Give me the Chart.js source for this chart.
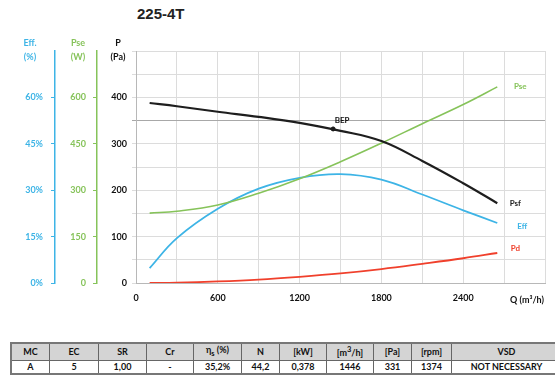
<!DOCTYPE html>
<html>
<head>
<meta charset="utf-8">
<script src="https://cdn.jsdelivr.net/npm/chart.js@4.4.0/dist/chart.umd.min.js"></script>
<style>
    html, body { margin: 0; padding: 0; background: #fff; }
    body { width: 555px; height: 378px; position: relative; overflow: hidden; font-family: Lato, "Noto Sans", sans-serif; }
    #title { position: absolute; left: 137px; top: 5px; font: bold 15px "Liberation Sans", Arial, sans-serif; color: #222; }
    #chart-wrap { position: absolute; left: 0; top: 0; width: 555px; height: 310px; }
    #specs { position: absolute; left: 10px; top: 342px; width: 539px; border-collapse: collapse; table-layout: fixed;
             font: bold 9px Lato, "Noto Sans", sans-serif; color: #111; border: 2px solid #777; }
    #specs td { border: 1px solid #666; text-align: center; height: 12px; padding: 0; line-height: 12px; }
    #specs tr.head td { background: #d4d4d4; }
</style>
</head>
<body>
<div id="title">225-4T</div>
<div id="chart-wrap"><canvas id="curves" width="555" height="310"></canvas></div>
<table id="specs"><tbody></tbody></table>

<script>
// Fan curves 225-4T — Chart.js

// ── Data ──────────────────────────────────────────────────────────────
const flowQ   = [100, 300, 600, 900, 1200, 1500, 1800, 2100, 2400, 2650];   // m³/h
const psfPa   = [388, 381, 369, 358, 345, 328, 306, 263, 215, 172];         // static pressure (Pa)
const pseW    = [226, 232, 252, 290, 337, 392, 452, 515, 577, 634];         // shaft power (W)
const effPct  = [4.8, 14.5, 24.0, 30.5, 34.0, 35.2, 33.4, 28.6, 23.5, 19.4]; // efficiency (%)
const pdW     = [0, 1, 5, 11, 20, 31, 45, 62, 80, 97];                      // dynamic (W scale)
const bepQ = 1446, bepPa = 332;

const xTicks   = [0, 600, 1200, 1800, 2400];
const paTicks  = [0, 100, 200, 300, 400];
const wTicks   = [0, 150, 300, 450, 600];
const effTicks = [0, 15, 30, 45, 60];

const tableHeaders = ['MC', 'EC', 'SR', 'Cr', 'η<sub>s</sub> (%)', 'N', '[kW]', '[m<sup>3</sup>/h]', '[Pa]', '[rpm]', 'VSD'];
const tableValues  = ['A', '5', '1,00', '-', '35,2%', '44,2', '0,378', '1446', '331', '1374', 'NOT NECESSARY'];
const colWidths    = [37, 48, 47, 46, 47, 37, 46, 46, 37, 39, 109];

const COLORS = {
    psf: '#1e1e1e',
    pse: '#86c35a',
    eff: '#3db4e6',
    pd: '#f0402c',
    grid: '#dcdcdc',
    axis: '#b8b8b8',
};

const pts = (ys) => flowQ.map((q, i) => ({ x: q, y: ys[i] }));

// ── Overlay texts (axis titles, end labels, BEP, Q label) ─────────────

const overlay = {
    id: 'overlay',
    afterDraw(chart) {
        const ctx = chart.ctx;
        const s = chart.scales;
        ctx.save();
        ctx.textAlign = 'center';
        ctx.textBaseline = 'middle';

        // axis titles above each left axis
        const titles = [
            ['yEff', 'Eff.', '(%)', COLORS.eff, 25],
            ['yW', 'Pse', '(W)', COLORS.pse, 19],
            ['yPa', 'P', '(Pa)', '#111', 18],
        ];
        ctx.font = 'bold 9px Lato, sans-serif';
        titles.forEach(([id, a, b, col, off]) => {
            ctx.fillStyle = col;
            ctx.fillText(a, s[id].right - off, 43);
            ctx.fillText(b, s[id].right - off, 57);
        });

        // x axis name in place of last tick
        ctx.fillStyle = '#111';
        ctx.fillText('Q (m³/h)', chart.chartArea.right - 18, 300);

        // curve end labels
        const ends = { Psf: [18, 0], Pse: [23, 0], Eff: [25, 3], Pd: [18, -5] };
        chart.data.datasets.forEach((ds, i) => {
            const e = ends[ds.label];
            if (!e) return;
            const meta = chart.getDatasetMeta(i);
            const p = meta.data[meta.data.length - 1];
            ctx.fillStyle = ds.borderColor;
            ctx.font = 'bold 8px Lato, sans-serif';
            ctx.fillText(ds.label, p.x + e[0], p.y + e[1]);
        });

        // BEP
        const bep = chart.getDatasetMeta(4).data[0];
        ctx.fillStyle = '#111';
        ctx.font = 'bold 8px Lato, sans-serif';
        ctx.fillText('BEP', bep.x + 9, bep.y - 9);
        ctx.restore();
    }
};

// ── Chart ─────────────────────────────────────────────────────────────

function sideAxis(min, max, ticks, color, weight, width, pad, fmt) {
    return {
        type: 'linear', position: 'left', weight: weight,
        min: min, max: max,
        afterFit: (sc) => { sc.width = width; },
        afterBuildTicks: (sc) => { sc.ticks = ticks.map(v => ({ value: v })); },
        border: { display: true, color: color, width: 1.5 },
        grid: { drawOnChartArea: false, color: color, tickLength: 4 },
        ticks: { color: color, padding: pad, font: { size: 9, family: 'Lato', weight: 'bold' },
                 callback: fmt || ((v) => v) },
    };
}

function initChart() {
    const ctx = document.getElementById('curves').getContext('2d');
    const lineDs = (label, data, color, axis, width) => ({
        label: label, data: data, yAxisID: axis,
        borderColor: color, borderWidth: width,
        pointRadius: 0, tension: 0.4, fill: false,
    });

    new Chart(ctx, {
        type: 'line',
        data: {
            datasets: [
                lineDs('Psf', pts(psfPa), COLORS.psf, 'yPa', 2.2),
                lineDs('Pse', pts(pseW), COLORS.pse, 'yW', 1.6),
                lineDs('Eff', pts(effPct), COLORS.eff, 'yEff', 1.8),
                lineDs('Pd', pts(pdW), COLORS.pd, 'yW', 1.8),
                {
                    label: 'BEP', type: 'scatter', yAxisID: 'yPa',
                    data: [{ x: bepQ, y: bepPa }],
                    pointRadius: 2, backgroundColor: '#111', borderColor: '#111',
                },
            ]
        },
        options: {
            responsive: false,
            animation: false,
            layout: { padding: { left: 10, right: 10, top: 51, bottom: 2 } },
            plugins: { legend: { display: false }, tooltip: { enabled: false } },
            scales: {
                x: {
                    type: 'linear', min: 0, max: 3000,
                    afterFit: (sc) => { sc.height = 25; },
                    ticks: {
                        stepSize: 300, padding: 10, color: '#111',
                        font: { size: 9, family: 'Lato', weight: 'bold' },
                        callback: (v) => xTicks.includes(v) ? v : '',
                    },
                    grid: { color: COLORS.grid, drawTicks: false },
                    border: { color: COLORS.axis },
                },
                yEff: sideAxis(0, 75, effTicks, COLORS.eff, 2, 45, 8, (v) => v + '%'),
                yW: sideAxis(0, 750, wTicks, COLORS.pse, 1, 42, 7),
                yPa: {
                    type: 'linear', position: 'left', weight: 0,
                    min: 0, max: 500,
                    afterFit: (sc) => { sc.width = 39; },
                    border: { color: COLORS.axis },
                    grid: {
                        color: (c) => c.tick && c.tick.value === 350 ? '#a8a8a8' : COLORS.grid,
                        tickLength: 4,
                    },
                    ticks: {
                        stepSize: 50, padding: 5, color: '#111',
                        font: { size: 9, family: 'Lato', weight: 'bold' },
                        callback: (v) => paTicks.includes(v) ? v : '',
                    },
                },
            }
        },
        plugins: [overlay]
    });
}

// ── Table ─────────────────────────────────────────────────────────────

function buildTable() {
    const body = document.querySelector('#specs tbody');
    const head = document.createElement('tr');
    head.className = 'head';
    const row = document.createElement('tr');
    tableHeaders.forEach((h, i) => {
        const td = document.createElement('td');
        td.innerHTML = h;
        td.style.width = colWidths[i] + 'px';
        head.appendChild(td);
        const vd = document.createElement('td');
        vd.textContent = tableValues[i];
        row.appendChild(vd);
    });
    body.appendChild(head);
    body.appendChild(row);
}

buildTable();
initChart();
</script>
</body>
</html>
